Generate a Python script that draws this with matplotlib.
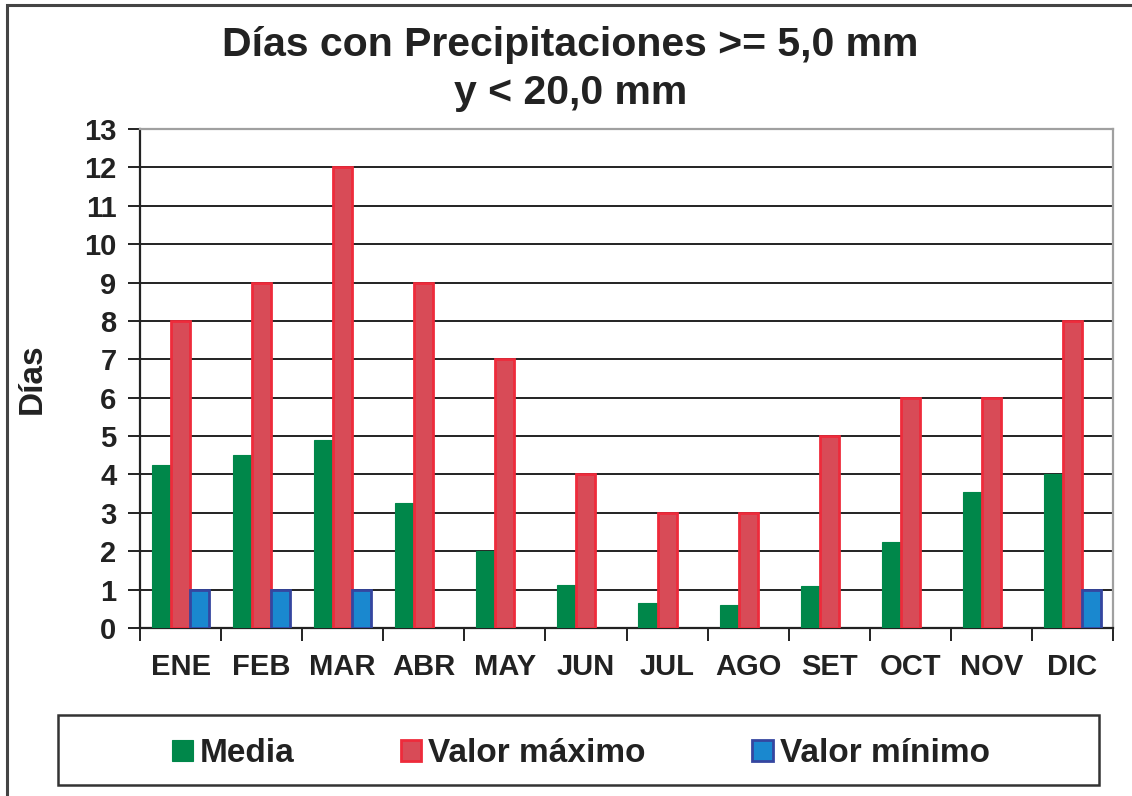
import numpy as np
import matplotlib.pyplot as plt
from matplotlib.patches import Rectangle

plt.rcParams['font.family'] = ['Liberation Sans', 'DejaVu Sans']
plt.rcParams['font.weight'] = 'bold'
plt.rcParams['axes.labelweight'] = 'bold'

meses = ['ENE', 'FEB', 'MAR', 'ABR', 'MAY', 'JUN', 'JUL', 'AGO', 'SET', 'OCT', 'NOV', 'DIC']
media = [4.25, 4.5, 4.9, 3.25, 2.0, 1.13, 0.65, 0.61, 1.09, 2.25, 3.55, 4.0]
valor_max = [8, 9, 12, 9, 7, 4, 3, 3, 5, 6, 6, 8]
valor_min = [1, 1, 1, 0, 0, 0, 0, 0, 0, 0, 0, 1]

fig = plt.figure(figsize=(11.32, 7.96), dpi=100)
ax = fig.add_axes([0.1237, 0.2111, 0.8595, 0.6268])

x = np.arange(len(meses))
w = 0.235


def bordes(vals, lw):
    # sin borde en barras de altura cero
    return [lw if v > 0 else 0 for v in vals]


ax.bar(x - w, media, w, color='#00874a', edgecolor='#00874a',
       linewidth=bordes(media, 0.8), label='Media', zorder=3)
ax.bar(x, valor_max, w, color='#d84b57', edgecolor='#ee2b3b',
       linewidth=bordes(valor_max, 2), label='Valor máximo', zorder=3)
ax.bar(x + w, valor_min, w, color='#1a88cf', edgecolor='#3546a0',
       linewidth=bordes(valor_min, 2), label='Valor mínimo', zorder=3)

ax.set_xlim(-0.5, len(meses) - 0.5)
ax.set_ylim(0, 13)
ax.set_yticks(range(0, 14))
ax.yaxis.grid(True, color='#222222', linewidth=1.4, zorder=0)
ax.set_axisbelow(True)

# etiquetas centradas, marcas entre meses
ax.set_xticks(np.arange(-0.5, len(meses)), labels=[''] * (len(meses) + 1))
ax.set_xticks(x, labels=meses, minor=True)
ax.tick_params(axis='x', which='major', length=9, width=1.4, color='#222222')
ax.tick_params(axis='x', which='minor', length=0, pad=18, labelsize=21,
               labelcolor='#222222')
ax.tick_params(axis='y', length=9, width=1.4, color='#222222', labelsize=21, pad=8,
               labelcolor='#222222')

for s in ['left', 'bottom']:
    ax.spines[s].set_color('#222222')
    ax.spines[s].set_linewidth(1.6)
for s in ['top', 'right']:
    ax.spines[s].set_color('#a0a0a0')
    ax.spines[s].set_linewidth(1.6)

ax.set_ylabel('Días', fontsize=24, labelpad=26, color='#222222')

fig.text(0.504, 0.943, 'Días con Precipitaciones >= 5,0 mm', ha='center', va='center',
         fontsize=29.5, color='#222222')
fig.text(0.504, 0.883, 'y < 20,0 mm', ha='center', va='center', fontsize=29.5,
         color='#222222')

# caja de la leyenda
fig.patches.append(Rectangle((58 / 1132, 11 / 796), 1041 / 1132, 70 / 796,
                             transform=fig.transFigure, fill=False,
                             edgecolor='#333333', linewidth=1.8))
leg = fig.legend(loc='center', bbox_to_anchor=(0.513, 0.053), ncol=3, fontsize=24,
                 frameon=False, handlelength=0.62, handleheight=0.62,
                 handletextpad=0.2, columnspacing=3.2, labelcolor='#222222')

# marco exterior del gráfico
fig.patches.append(Rectangle((7 / 1132, -0.2), 1.2, 1.2 - 5 / 796, transform=fig.transFigure,
                             fill=False, edgecolor='#444444', linewidth=2.2))

fig.savefig('out.png', dpi=100)
